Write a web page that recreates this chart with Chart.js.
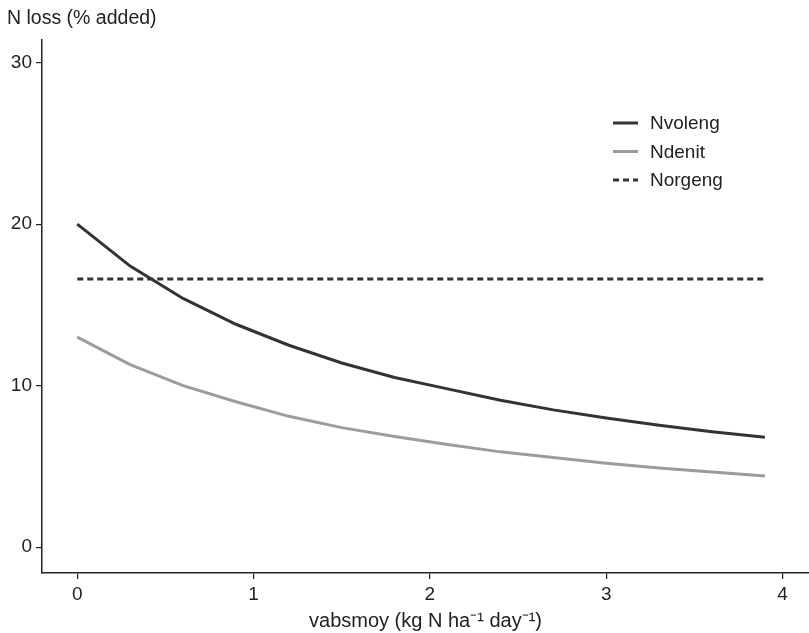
<!DOCTYPE html>
<html>
<head>
<meta charset="utf-8">
<script src="https://cdn.jsdelivr.net/npm/chart.js@4"></script>
<style>
  html, body { margin: 0; padding: 0; background: #fff; }
  #wrap { width: 809px; height: 633px; position: relative; }
</style>
</head>
<body>
<div id="wrap"><canvas id="chart_nloss"></canvas></div>
<script>
// vabsmoy values (kg N ha-1 day-1)
const vabsmoy = [0, 0.3, 0.6, 0.9, 1.2, 1.5, 1.8, 2.1, 2.4, 2.7, 3.0, 3.3, 3.6, 3.9];
// N loss, % of N added
const nvoleng = [20.0, 17.4, 15.4, 13.8, 12.5, 11.4, 10.5, 9.8, 9.1, 8.5, 8.0, 7.55, 7.15, 6.8];
const ndenit = [13.0, 11.3, 10.0, 9.0, 8.1, 7.4, 6.85, 6.35, 5.9, 5.55, 5.2, 4.9, 4.65, 4.4];
const norgeng = [16.6, 16.6, 16.6, 16.6, 16.6, 16.6, 16.6, 16.6, 16.6, 16.6, 16.6, 16.6, 16.6, 16.6];
const xTicks = [0, 1, 2, 3, 4];
const yTicks = [0, 10, 20, 30];

const ink = '#222222';
const sans = "'Liberation Sans', Arial, sans-serif";

const toPoints = (ys) => vabsmoy.map((x, i) => ({ x, y: ys[i] }));

const series = (label, ys, color, dash) => ({
    label,
    data: toPoints(ys),
    borderColor: color,
    backgroundColor: color,
    borderWidth: 3,
    borderDash: dash,
    pointRadius: 0,
    tension: 0,
    fill: false,
});

// y title top-left and legend top-right, drawn after the datasets
const extras = {
    id: 'extras',
    afterDraw(chart) {
        const { ctx } = chart;
        ctx.save();
        ctx.fillStyle = ink;
        ctx.font = '19.5px ' + sans;
        ctx.textBaseline = 'middle';
        ctx.textAlign = 'left';
        ctx.fillText('N loss (% added)', 7, 19);

        ctx.font = '19px ' + sans;
        chart.data.datasets.forEach((ds, i) => {
            const y = 123 + i * 28.5;
            ctx.beginPath();
            ctx.strokeStyle = ds.borderColor;
            ctx.lineWidth = 3;
            ctx.setLineDash(ds.borderDash || []);
            ctx.moveTo(613, y);
            ctx.lineTo(638, y);
            ctx.stroke();
            ctx.setLineDash([]);
            ctx.fillStyle = ink;
            ctx.fillText(ds.label, 650, y + 1);
        });
        ctx.restore();
    },
};

new Chart(document.getElementById('chart_nloss'), {
    type: 'line',
    data: {
        datasets: [
            series('Nvoleng', nvoleng, '#333333', []),
            series('Ndenit', ndenit, '#9c9c9c', []),
            series('Norgeng', norgeng, '#333333', [6, 4]),
        ],
    },
    options: {
        responsive: true,
        maintainAspectRatio: false,
        animation: false,
        layout: {
            padding: { top: 40, right: 0, left: 0, bottom: 0 },
        },
        scales: {
            x: {
                type: 'linear',
                min: -0.2,
                max: 4.15,
                afterBuildTicks: (scale) => {
                    scale.ticks = xTicks.map((value) => ({ value }));
                },
                afterFit: (scale) => {
                    scale.height = 60;
                },
                border: { display: true, color: ink, width: 1.5 },
                grid: {
                    display: true,
                    drawOnChartArea: false,
                    drawTicks: true,
                    tickLength: 6,
                    color: ink,
                    lineWidth: 1.2,
                },
                ticks: {
                    color: ink,
                    font: { family: sans, size: 19 },
                    padding: 4,
                    maxRotation: 0,
                    callback: (v) => String(v),
                },
                title: {
                    display: true,
                    text: 'vabsmoy (kg N ha\u207B\u00B9 day\u207B\u00B9)',
                    color: ink,
                    font: { family: sans, size: 20 },
                    padding: { top: 2, bottom: 0 },
                },
            },
            y: {
                type: 'linear',
                min: -1.6,
                max: 31.4,
                afterBuildTicks: (scale) => {
                    scale.ticks = yTicks.map((value) => ({ value }));
                },
                afterFit: (scale) => {
                    scale.width = 42;
                },
                border: { display: true, color: ink, width: 1.5 },
                grid: {
                    display: true,
                    drawOnChartArea: false,
                    drawTicks: true,
                    tickLength: 6,
                    color: ink,
                    lineWidth: 1.2,
                },
                ticks: {
                    color: ink,
                    font: { family: sans, size: 19 },
                    padding: 4,
                    callback: (v) => String(v),
                },
            },
        },
        plugins: {
            legend: { display: false },
            title: { display: false },
            tooltip: { enabled: false },
        },
    },
    plugins: [extras],
});
</script>
</body>
</html>
